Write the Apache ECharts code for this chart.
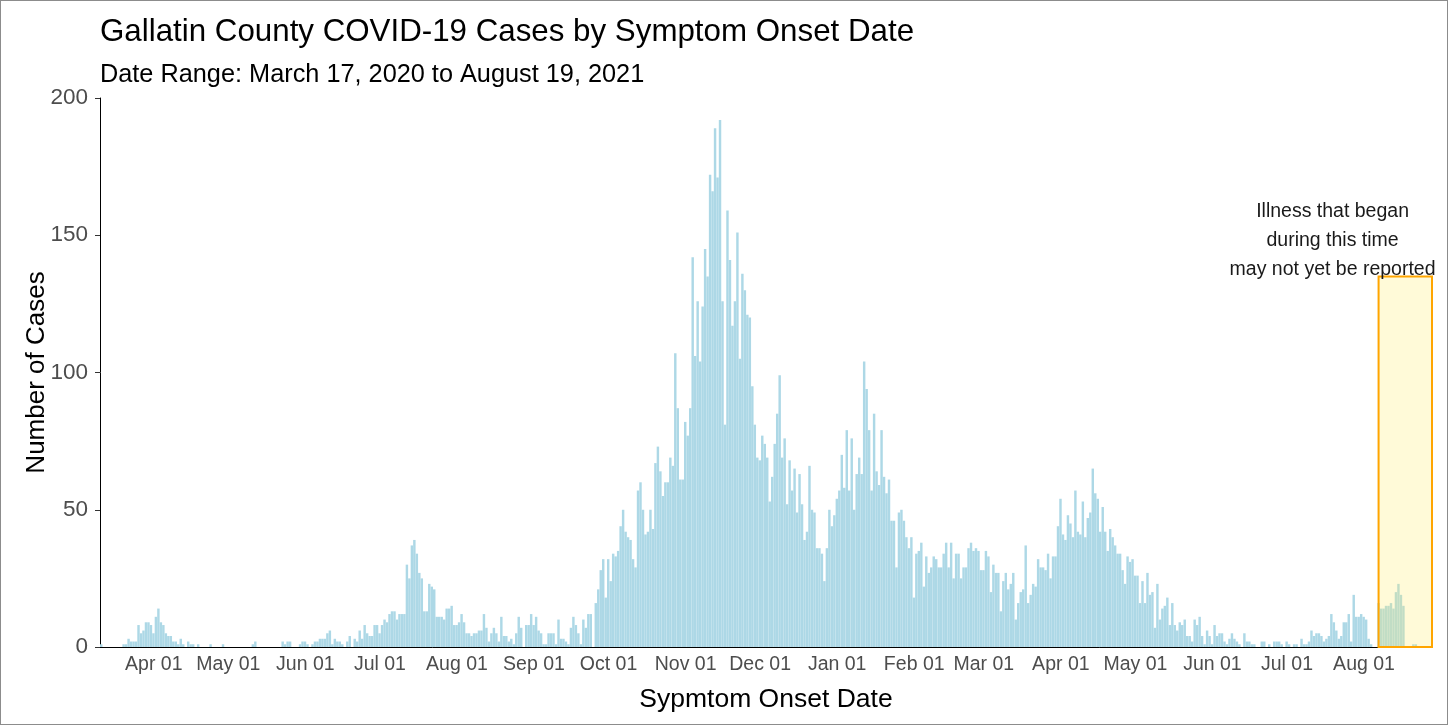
<!DOCTYPE html>
<html>
<head>
<meta charset="utf-8">
<script src="https://cdn.jsdelivr.net/npm/echarts/dist/echarts.min.js"></script>
<style>
  html, body { margin: 0; padding: 0; background: #fff; }
  #chart { width: 1448px; height: 725px; box-sizing: border-box; border: 1px solid #8c8c8c; }
</style>
</head>
<body>
<div id="chart"></div>
<script>
  // daily cases by symptom onset, first day = startDate
  const startDate = '2020-03-02'
  const endDate = '2021-08-19'

  // Mar 02 - Dec 31, 2020
  const cases2020 = [
    1, 0, 0, 0, 0, 0, 0, 0, 0, 1,
    1, 3, 2, 2, 2, 8, 5, 6, 9, 9,
    8, 5, 11, 14, 9, 8, 5, 4, 4, 2,
    2, 1, 3, 1, 0, 2, 1, 1, 0, 1,
    0, 0, 0, 0, 1, 0, 0, 0, 0, 1,
    0, 0, 0, 0, 0, 0, 0, 0, 0, 0,
    0, 1, 2, 0, 0, 0, 0, 0, 0, 0,
    0, 0, 0, 2, 1, 2, 2, 0, 0, 0,
    1, 2, 2, 1, 0, 1, 2, 2, 3, 3,
    3, 5, 6, 1, 3, 2, 2, 1, 0, 2,
    4, 0, 3, 2, 6, 3, 8, 5, 4, 4,
    8, 8, 5, 8, 10, 9, 12, 13, 13, 10,
    12, 12, 12, 30, 25, 37, 39, 34, 27, 25,
    13, 13, 23, 22, 21, 11, 11, 11, 10, 14,
    14, 15, 8, 8, 9, 12, 9, 5, 5, 4,
    5, 5, 6, 6, 12, 7, 2, 5, 7, 5,
    2, 11, 4, 4, 2, 3, 1, 5, 11, 7,
    0, 8, 8, 12, 8, 11, 6, 5, 1, 1,
    5, 5, 5, 1, 10, 3, 3, 2, 1, 7,
    11, 8, 5, 1, 10, 7, 12, 12, 0, 16,
    21, 28, 32, 18, 32, 24, 34, 33, 35, 44,
    50, 42, 40, 39, 32, 29, 57, 60, 50, 41,
    42, 50, 43, 67, 73, 64, 55, 60, 60, 69,
    66, 107, 87, 61, 61, 82, 77, 87, 142, 106,
    126, 104, 124, 145, 135, 172, 166, 189, 171, 192,
    126, 81, 159, 141, 117, 126, 151, 105, 136, 130,
    121, 120, 95, 81, 69, 68, 77, 74, 69, 53,
    62, 74, 85, 99, 69, 76, 52, 68, 57, 65,
    49, 63, 52, 39, 42, 66, 50, 49, 36, 36,
    34, 24, 36, 50, 44, 48, 54, 57, 70, 58,
    79, 57, 76, 50, 63
  ]

  // Jan 01 - Aug 19, 2021
  const cases2021 = [
    69, 63, 104, 94, 79,
    57, 85, 64, 59, 79, 62, 56, 61, 46, 46,
    29, 49, 50, 46, 40, 36, 40, 18, 34, 35,
    38, 22, 33, 27, 29, 33, 32, 29, 29, 34,
    38, 29, 38, 25, 34, 34, 25, 29, 29, 36,
    38, 35, 36, 35, 28, 28, 35, 33, 20, 30,
    27, 27, 13, 24, 27, 21, 23, 27, 10, 16,
    20, 21, 37, 16, 19, 23, 22, 32, 29, 29,
    28, 34, 25, 33, 33, 44, 54, 41, 39, 48,
    45, 40, 57, 42, 41, 53, 40, 47, 49, 65,
    56, 54, 42, 51, 42, 35, 43, 40, 37, 34,
    34, 28, 23, 33, 31, 32, 26, 26, 16, 24,
    16, 27, 19, 20, 7, 23, 10, 14, 15, 18,
    8, 16, 8, 6, 9, 8, 10, 4, 4, 2,
    10, 8, 11, 4, 1, 6, 4, 1, 8, 4,
    5, 5, 2, 1, 3, 5, 3, 2, 1, 0,
    5, 2, 2, 1, 1, 0, 0, 2, 2, 0,
    1, 0, 2, 2, 2, 1, 0, 2, 1, 0,
    1, 1, 0, 3, 1, 1, 2, 6, 4, 5,
    5, 4, 2, 3, 4, 12, 9, 6, 3, 4,
    9, 9, 12, 2, 19, 11, 11, 12, 11, 10,
    3, 1, 0, 0, 16, 14, 14, 15, 15, 16,
    14, 20, 23, 19, 15, 0, 0, 0, 1, 1,
    0, 0, 0, 0, 0, 0
  ]

  // shaded "not yet reported" window
  const lateStart = '2021-07-29'
  const lateEnd = '2021-08-19'
  const lateTop = 135
  const lateNote = 'Illness that began\nduring this time\nmay not yet be reported'

  const yTicks = [0, 50, 100, 150, 200]
  const monthNames = ['Jan', 'Feb', 'Mar', 'Apr', 'May', 'Jun', 'Jul', 'Aug', 'Sep', 'Oct', 'Nov', 'Dec']

  function dayList(a, b) {
    let out = []
    let d = new Date(a + 'T00:00:00Z')
    let end = new Date(b + 'T00:00:00Z')
    while (d <= end) {
      out.push(d.toISOString().slice(0, 10))
      d = new Date(d.getTime() + 86400000)
    }
    return out
  }

  const days = dayList(startDate, endDate)
  const cases = cases2020.concat(cases2021)

  const font = '"Liberation Sans", Arial, sans-serif'
  const isMonthStart = (idx, val) => val.slice(8) === '01'

  // yellow window + note, placed through the axes
  function renderLate(params, api) {
    let p0 = api.coord([api.value(0), 0])
    let p1 = api.coord([api.value(1), api.value(2)])
    let half = api.size([1, 0])[0] / 2
    return {
      type: 'group',
      children: [
        {
          type: 'rect',
          shape: { x: p0[0], y: p1[1], width: p1[0] + half - p0[0], height: p0[1] - p1[1] },
          style: { fill: 'rgba(255, 236, 100, 0.25)', stroke: '#FFA500', lineWidth: 2 }
        },
        {
          type: 'text',
          style: {
            x: p0[0] - 46,
            y: p1[1] + 8,
            text: lateNote,
            align: 'center',
            verticalAlign: 'bottom',
            font: '19.5px ' + font,
            lineHeight: 29,
            fill: '#1a1a1a'
          }
        }
      ]
    }
  }

  let chart = echarts.init(document.getElementById('chart'))
  let option = {
    animation: false,
    textStyle: { fontFamily: font },
    title: [
      {
        text: 'Gallatin County COVID-19 Cases by Symptom Onset Date',
        left: 99,
        top: 16,
        padding: 0,
        textStyle: { fontFamily: font, fontSize: 31.3, fontWeight: 'normal', color: '#000' }
      },
      {
        text: 'Date Range: March 17, 2020 to August 19, 2021',
        left: 99,
        top: 62,
        padding: 0,
        textStyle: { fontFamily: font, fontSize: 25.3, fontWeight: 'normal', color: '#000' }
      }
    ],
    grid: { left: 99, right: 15, top: 97, bottom: 77 },
    xAxis: {
      type: 'category',
      data: days,
      name: 'Sypmtom Onset Date',
      nameLocation: 'middle',
      nameGap: 39,
      nameTextStyle: { fontFamily: font, fontSize: 26.5, color: '#000' },
      axisLine: { lineStyle: { color: '#000', width: 1 } },
      axisTick: {
        alignWithLabel: true,
        interval: isMonthStart,
        length: 5,
        lineStyle: { color: '#333' }
      },
      axisLabel: {
        interval: isMonthStart,
        formatter: v => monthNames[+v.slice(5, 7) - 1] + ' 01',
        fontFamily: font,
        fontSize: 19.5,
        color: '#4d4d4d',
        margin: 8,
        padding: [0, 44, 0, 0]
      }
    },
    yAxis: {
      type: 'value',
      min: yTicks[0],
      max: yTicks[yTicks.length - 1],
      interval: 50,
      name: 'Number of Cases',
      nameLocation: 'middle',
      nameGap: 50,
      nameMoveOverlap: false,
      nameTextStyle: { fontFamily: font, fontSize: 26, color: '#000' },
      splitLine: { show: false },
      axisLine: { show: true, lineStyle: { color: '#000', width: 1 } },
      axisTick: { show: true, length: 5, lineStyle: { color: '#333' } },
      axisLabel: { fontFamily: font, fontSize: 22.5, color: '#4d4d4d', margin: 12 }
    },
    series: [
      {
        name: 'Cases',
        type: 'bar',
        data: cases,
        barCategoryGap: '2%',
        itemStyle: { color: '#ADD8E6' }
      },
      {
        name: 'Late window',
        type: 'custom',
        z: 3,
        silent: true,
        renderItem: renderLate,
        encode: { x: [0, 1], y: 2 },
        data: [[days.indexOf(lateStart), days.indexOf(lateEnd), lateTop]]
      }
    ]
  }
  chart.setOption(option)
</script>
</body>
</html>
